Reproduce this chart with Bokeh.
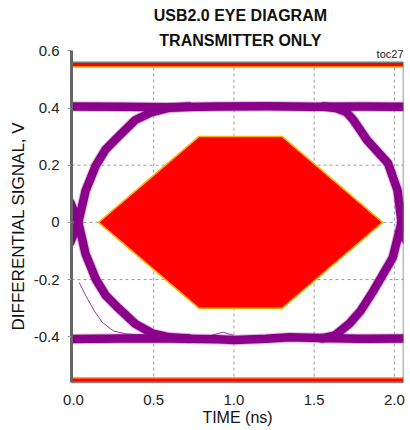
from bokeh.plotting import figure
from bokeh.models import Range1d, FixedTicker, Label, Title
from bokeh.embed import file_html
from bokeh.resources import INLINE

# ---------------- data ----------------
x_ticks = [0.0, 0.5, 1.0, 1.5, 2.0]
x_tick_labels = ["0.0", "0.5", "1.0", "1.5", "2.0"]
y_ticks = [-0.4, -0.2, 0.0, 0.2, 0.4, 0.6]
y_tick_labels = ["-0.4", "-0.2", "0", "0.2", "0.4", "0.6"]
grid_y = [-0.4, -0.2, 0.0, 0.2, 0.4]

# transmitter eye mask (ns, V)
mask_x = [0.156, 0.781, 1.302, 1.927, 1.302, 0.781]
mask_y = [0.0, 0.3, 0.3, 0.0, -0.3, -0.3]
mask_upper = [0.543, 0.56]
mask_lower = [-0.56, -0.543]

# eye traces
upper_x = [-0.02, 0.3, 0.6, 0.9, 1.2, 1.5, 1.8, 2.08]
upper_y = [0.405, 0.404, 0.403, 0.405, 0.406, 0.404, 0.405, 0.404]
lower_x = [-0.02, 0.3, 0.6, 0.9, 1.0, 1.2, 1.35, 1.6, 1.8, 2.08]
lower_y = [-0.408, -0.406, -0.406, -0.409, -0.411, -0.407, -0.402, -0.405, -0.407, -0.406]

rise_l_x = [-0.02, 0.03, 0.075, 0.14, 0.2, 0.28, 0.385, 0.49, 0.6, 0.72]
rise_l_y = [-0.07, 0.0, 0.11, 0.2, 0.255, 0.3, 0.358, 0.386, 0.401, 0.405]
fall_l_x = [-0.02, 0.03, 0.075, 0.14, 0.2, 0.28, 0.385, 0.49, 0.6, 0.72]
fall_l_y = [0.07, 0.0, -0.11, -0.2, -0.255, -0.3, -0.355, -0.388, -0.402, -0.406]

fall_r_x = [1.56, 1.64, 1.70, 1.745, 1.83, 1.96, 2.02, 2.045, 2.07]
fall_r_y = [0.405, 0.399, 0.386, 0.358, 0.288, 0.207, 0.112, 0.0, -0.06]
rise_r_x = [1.55, 1.63, 1.72, 1.79, 1.87, 1.99, 2.045, 2.07]
rise_r_y = [-0.406, -0.395, -0.354, -0.309, -0.239, -0.123, 0.0, 0.06]

stray_l_x = [0.035, 0.08, 0.13, 0.18, 0.25, 0.33, 0.45]
stray_l_y = [-0.21, -0.26, -0.31, -0.35, -0.38, -0.39, -0.395]
stray_r_x = [1.88, 1.95, 2.01]
stray_r_y = [0.253, 0.215, 0.173]
stray_b_x = [0.86, 0.93, 1.0]
stray_b_y = [-0.395, -0.384, -0.395]

# ---------------- figure ----------------
X0, X1 = -0.0125, 2.057
Y0, Y1 = -0.56, 0.776
AXIS_TOP = 0.6
FRAME_TOP = 0.56
FONT = "Liberation Sans"

p = figure(width=410, height=430, output_backend="svg", toolbar_location=None,
           x_range=Range1d(X0, X1), y_range=Range1d(Y0, Y1),
           min_border_left=71, min_border_right=7, min_border_top=0, min_border_bottom=48)
p.outline_line_color = None
p.xgrid.visible = False
p.ygrid.visible = False
p.background_fill_color = "white"

# axes
p.yaxis.ticker = FixedTicker(ticks=y_ticks)
p.yaxis.bounds = (Y0, AXIS_TOP)
p.yaxis.major_label_overrides = dict(zip(y_ticks, y_tick_labels))
p.yaxis.major_label_text_font = FONT
p.yaxis.major_label_text_font_size = "15px"
p.yaxis.major_label_text_color = "#222222"
p.yaxis.major_tick_out = 4
p.yaxis.major_tick_in = 0
p.yaxis.minor_tick_line_color = None
p.yaxis.major_tick_line_color = "#999999"
p.yaxis.major_label_standoff = 8
p.yaxis.axis_line_color = "#666666"
p.yaxis.axis_line_width = 3

p.add_layout(Title(text="DIFFERENTIAL  SIGNAL, V", align="left", offset=52,
                   text_font=FONT, text_font_style="normal", text_font_size="17px",
                   text_color="#111111", standoff=6), "left")

p.xaxis.ticker = FixedTicker(ticks=x_ticks)
p.xaxis.major_label_overrides = dict(zip(x_ticks, x_tick_labels))
p.xaxis.major_label_text_font = FONT
p.xaxis.major_label_text_font_size = "15px"
p.xaxis.major_label_text_color = "#222222"
p.xaxis.major_tick_line_color = None
p.xaxis.minor_tick_line_color = None
p.xaxis.major_label_standoff = 6
p.xaxis.axis_line_color = "#888888"
p.xaxis.axis_line_width = 1.5
p.xaxis.axis_label = "TIME (ns)"
p.xaxis.axis_label_text_font = FONT
p.xaxis.axis_label_text_font_style = "normal"
p.xaxis.axis_label_text_font_size = "16px"
p.xaxis.axis_label_text_color = "#111111"
p.xaxis.axis_label_standoff = 1

# dashed grid inside the frame
p.segment(x0=x_ticks[1:], y0=[Y0] * 4, x1=x_ticks[1:], y1=[FRAME_TOP] * 4,
          line_color="#9a9a9a", line_width=1, line_dash="3 3")
p.segment(x0=[X0] * len(grid_y), y0=grid_y, x1=[X1] * len(grid_y), y1=grid_y,
          line_color="#9a9a9a", line_width=1, line_dash="3 3")

# eye traces
PURPLE = "#8b008b"
FRINGE = "#b060b0"
main = [(upper_x, upper_y), (lower_x, lower_y), (rise_l_x, rise_l_y), (fall_l_x, fall_l_y),
        (fall_r_x, fall_r_y), (rise_r_x, rise_r_y)]
for xs, ys in main:
    p.line(xs, ys, line_color=FRINGE, line_width=10.5, line_alpha=0.4, line_join="round", line_cap="round")
for xs, ys in main:
    p.line(xs, ys, line_color=PURPLE, line_width=8.5, line_join="round", line_cap="round")
for xs, ys in [(stray_l_x, stray_l_y), (stray_r_x, stray_r_y), (stray_b_x, stray_b_y)]:
    p.line(xs, ys, line_color=PURPLE, line_width=1, line_alpha=0.8)

# mask
p.patch(mask_x, mask_y, fill_color="#ff0000", line_color="#ffae00", line_width=1.5)
p.quad(left=[X0], right=[X1], bottom=[mask_upper[0]], top=[mask_upper[1]],
       fill_color="#ff0000", line_color=None)
p.quad(left=[X0], right=[X1], bottom=[mask_lower[0]], top=[mask_lower[1]],
       fill_color="#ff0000", line_color=None)
p.segment(x0=[X0, X0], y0=[mask_upper[0], mask_lower[1]], x1=[X1, X1], y1=[mask_upper[0], mask_lower[1]],
          line_color="#ffb000", line_width=1.5)

# frame
p.quad(left=[X0], right=[X1], bottom=[Y0], top=[FRAME_TOP], fill_color=None,
       line_color="#777777", line_width=1.5)

# titles
p.add_layout(Label(x=1.04, y=0.724, text="USB2.0 EYE DIAGRAM", text_align="center",
                   text_baseline="middle", text_font=FONT, text_font_style="bold",
                   text_font_size="16px", text_color="#111111"))
p.add_layout(Label(x=1.04, y=0.637, text="TRANSMITTER ONLY", text_align="center",
                   text_baseline="middle", text_font=FONT, text_font_style="bold",
                   text_font_size="16px", text_color="#111111"))
p.add_layout(Label(x=X1, y=0.59, text="toc27", text_align="right",
                   text_baseline="middle", text_font=FONT,
                   text_font_size="11px", text_color="#222222"))

open("out.html", "w").write(file_html(p, INLINE))
